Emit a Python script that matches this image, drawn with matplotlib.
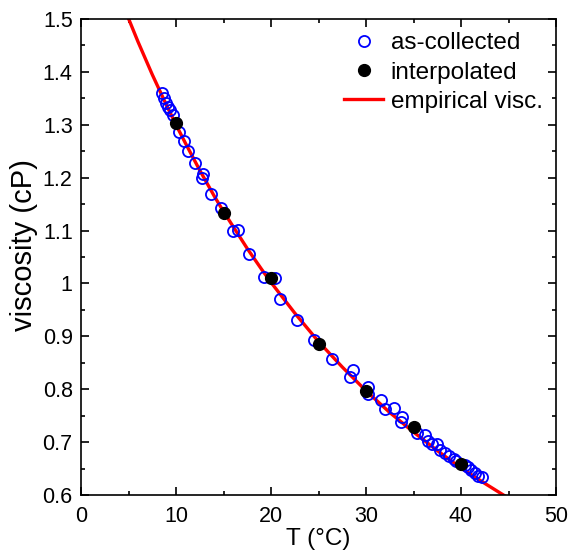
import matplotlib.pyplot as plt
from matplotlib.ticker import MultipleLocator, FormatStrFormatter

plt.rcParams['font.family'] = ['Liberation Sans', 'DejaVu Sans']

# as-collected measurements (T in degC, viscosity in cP)
t_meas = [8.49, 8.74, 8.95, 9.19, 9.37, 9.65, 10.32, 10.81, 11.30, 11.96,
          12.80, 12.74, 13.65, 14.74, 16.03, 16.56, 17.65, 19.26, 20.40, 20.98,
          22.77, 24.56, 26.45, 28.60, 28.35, 30.25, 30.20, 31.60, 32.00, 32.90,
          33.76, 33.65, 35.33, 36.20, 36.56, 36.90, 37.44, 37.79, 38.30, 38.77,
          39.26, 39.50, 40.40, 40.77, 41.10, 41.47, 41.80, 42.17]
v_meas = [1.3595, 1.350, 1.342, 1.333, 1.327, 1.318, 1.287, 1.269, 1.250, 1.227,
          1.206, 1.199, 1.170, 1.142, 1.100, 1.101, 1.056, 1.013, 1.010, 0.970,
          0.930, 0.893, 0.857, 0.836, 0.8225, 0.805, 0.791, 0.780, 0.762, 0.764,
          0.747, 0.7386, 0.7166, 0.7134, 0.702, 0.696, 0.696, 0.685, 0.679, 0.674,
          0.668, 0.664, 0.657, 0.652, 0.647, 0.641, 0.6365, 0.6335]

# interpolated values at round temperatures
t_interp = [10, 15, 20, 25, 30, 35, 40]
v_interp = [1.304, 1.134, 1.010, 0.885, 0.796, 0.728, 0.659]

# empirical viscosity curve
t_emp = [4, 5, 6, 7.5, 9, 10, 11, 12.5, 14, 15, 16, 17.5, 19, 20, 22.5, 25,
         27.5, 30, 32.5, 35, 37.5, 40, 42.5, 45, 46]
v_emp = [1.547, 1.501, 1.457, 1.395, 1.337, 1.300, 1.265, 1.214, 1.166, 1.136,
         1.108, 1.066, 1.027, 1.002, 0.944, 0.890, 0.842, 0.797, 0.756, 0.719,
         0.684, 0.651, 0.622, 0.594, 0.583]

fig = plt.figure(figsize=(5.71, 5.6), dpi=100)
ax = fig.add_axes([81/571, 65/560, 475/571, 476/560])

ax.plot(t_meas, v_meas, 'o', markerfacecolor='none', markeredgecolor='#0000ff',
        markeredgewidth=1.3, markersize=8, label='as-collected', zorder=3)
ax.plot(t_interp, v_interp, 'o', color='black', markersize=8.5,
        label='interpolated', zorder=4)
ax.plot(t_emp, v_emp, '-', color='#ff0000', linewidth=2.4,
        label='empirical visc.', zorder=2)

ax.set_xlim(0, 50)
ax.set_ylim(0.6, 1.5)
ax.xaxis.set_major_locator(MultipleLocator(10))
ax.xaxis.set_minor_locator(MultipleLocator(5))
ax.yaxis.set_major_locator(MultipleLocator(0.1))
ax.yaxis.set_minor_locator(MultipleLocator(0.05))
ax.yaxis.set_major_formatter(FormatStrFormatter('%g'))
ax.tick_params(which='both', direction='in', top=True, right=True,
               labelsize=15.5, width=1.2)
ax.tick_params(axis='x', pad=8)
ax.tick_params(axis='y', pad=6)
ax.tick_params(which='major', length=6)
ax.tick_params(which='minor', length=3)
for s in ax.spines.values():
    s.set_linewidth(1.2)

ax.set_xlabel('T (°C)', fontsize=17.5, labelpad=1)
ax.set_ylabel('viscosity (cP)', fontsize=21)
ax.yaxis.set_label_coords(-0.09, 0.525)

ax.legend(loc='upper right', frameon=False, fontsize=17.5, handlelength=1.6,
          handletextpad=0.3, labelspacing=0.3, borderpad=0.2,
          borderaxespad=0.35)

plt.savefig('out.png', dpi=100)
